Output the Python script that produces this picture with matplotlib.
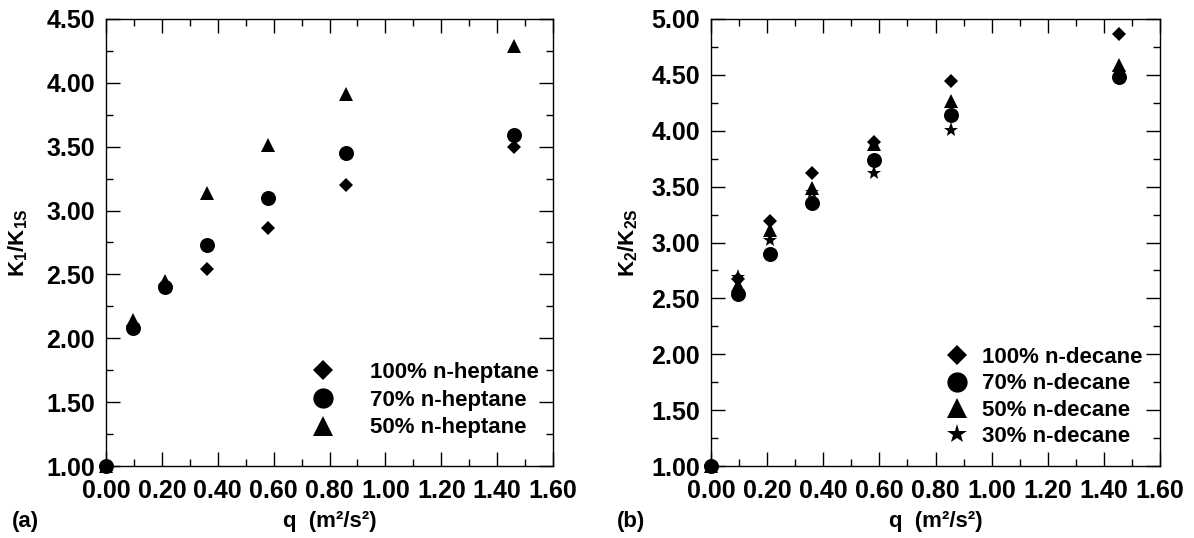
import matplotlib
matplotlib.use("Agg")
import matplotlib.pyplot as plt
from matplotlib.ticker import MultipleLocator, FormatStrFormatter

plt.rcParams['font.family'] = ['Liberation Sans', 'DejaVu Sans']
plt.rcParams['font.weight'] = 'bold'
plt.rcParams['mathtext.fontset'] = 'custom'
plt.rcParams['mathtext.rm'] = 'Liberation Sans:bold'
plt.rcParams['mathtext.bf'] = 'Liberation Sans:bold'
plt.rcParams['mathtext.default'] = 'bf'

# Panel (a): n-heptane
q_a = [0.0, 0.095, 0.21, 0.36, 0.58, 0.86, 1.46]
hep100 = [1.00, 2.10, 2.42, 2.54, 2.865, 3.20, 3.50]
hep70 = [1.00, 2.08, 2.40, 2.73, 3.095, 3.45, 3.595]
hep50 = [1.00, 2.14, 2.445, 3.14, 3.515, 3.91, 4.29]

# Panel (b): n-decane
q_b = [0.0, 0.095, 0.21, 0.36, 0.58, 0.855, 1.455]
dec100 = [1.00, 2.67, 3.19, 3.62, 3.90, 4.445, 4.87]
dec70 = [1.00, 2.54, 2.895, 3.35, 3.737, 4.137, 4.48]
dec50 = [1.00, 2.62, 3.11, 3.49, 3.88, 4.27, 4.59]
dec30 = [1.00, 2.69, 3.02, 3.45, 3.626, 4.01, 4.53]

labels_a = ['100% n-heptane', '70% n-heptane', '50% n-heptane']
labels_b = ['100% n-decane', '70% n-decane', '50% n-decane', '30% n-decane']

W, H = 1194, 538
fig = plt.figure(figsize=(W / 100, H / 100), dpi=100)
axA = fig.add_axes([106 / W, 1 - 466 / H, (553 - 106) / W, (466 - 19) / H])
axB = fig.add_axes([711 / W, 1 - 466 / H, (1160 - 711) / W, (466 - 19) / H])

msz = {'D': 7.2, 'o': 10.8, '^': 10.2, '*': 11}


def style(ax, ylim, ylabel, ylab_x):
    ax.set_xlim(0, 1.6)
    ax.set_ylim(*ylim)
    ax.xaxis.set_major_locator(MultipleLocator(0.2))
    ax.xaxis.set_minor_locator(MultipleLocator(0.1))
    ax.yaxis.set_major_locator(MultipleLocator(0.5))
    ax.yaxis.set_minor_locator(MultipleLocator(0.25))
    ax.xaxis.set_major_formatter(FormatStrFormatter('%.2f'))
    ax.yaxis.set_major_formatter(FormatStrFormatter('%.2f'))
    ax.tick_params(which='both', direction='in', top=True, right=True, width=1.0)
    ax.tick_params(which='major', length=10, labelsize=18)
    ax.tick_params(which='minor', length=5)
    ax.tick_params(axis='x', which='major', pad=9)
    ax.tick_params(axis='y', which='major', pad=8)
    for lab in ax.get_xticklabels() + ax.get_yticklabels():
        lab.set_fontweight('bold')
    for s in ax.spines.values():
        s.set_linewidth(1.0)
    ax.set_xlabel('q  (m²/s²)', fontsize=16, fontweight='bold')
    ax.xaxis.label.set_va('center')
    ax.xaxis.set_label_coords(0.5, (466 - 522) / 447)
    ax.set_ylabel(ylabel, fontsize=16, fontweight='bold')
    ax.yaxis.label.set_va('center')
    ax.yaxis.set_label_coords(ylab_x, 0.5)


for y, m, lab in zip([hep100, hep70, hep50], ['D', 'o', '^'], labels_a):
    axA.plot(q_a, y, linestyle='none', marker=m, color='black', markeredgewidth=0,
             markersize=msz[m], label=lab, clip_on=False)
style(axA, (1.0, 4.5), r'K$_{1}$/K$_{1S}$', (18 - 106) / 447)

for y, m, lab in zip([dec100, dec70, dec50, dec30], ['D', 'o', '^', '*'], labels_b):
    axB.plot(q_b, y, linestyle='none', marker=m, color='black', markeredgewidth=0,
             markersize=msz[m], label=lab, clip_on=False)
style(axB, (1.0, 5.0), r'K$_{2}$/K$_{2S}$', (628 - 711) / 449)

axA.legend(loc='upper left', bbox_to_anchor=(312 / W, 1 - 362 / H),
           bbox_transform=fig.transFigure, frameon=False,
           prop={'size': 16, 'weight': 'bold'}, markerscale=1.35,
           handletextpad=1.6, labelspacing=0.3, handlelength=1.0,
           borderpad=0, borderaxespad=0)
axB.legend(loc='upper left', bbox_to_anchor=(946 / W, 1 - 347 / H),
           bbox_transform=fig.transFigure, frameon=False,
           prop={'size': 16, 'weight': 'bold'}, markerscale=1.35,
           handletextpad=0.63, labelspacing=0.24, handlelength=1.0,
           borderpad=0, borderaxespad=0)

fig.text(12 / W, 1 - 522 / H, '(a)', fontsize=16, fontweight='bold', va='center', ha='left')
fig.text(617 / W, 1 - 522 / H, '(b)', fontsize=16, fontweight='bold', va='center', ha='left')

fig.savefig('out.png', dpi=100)
